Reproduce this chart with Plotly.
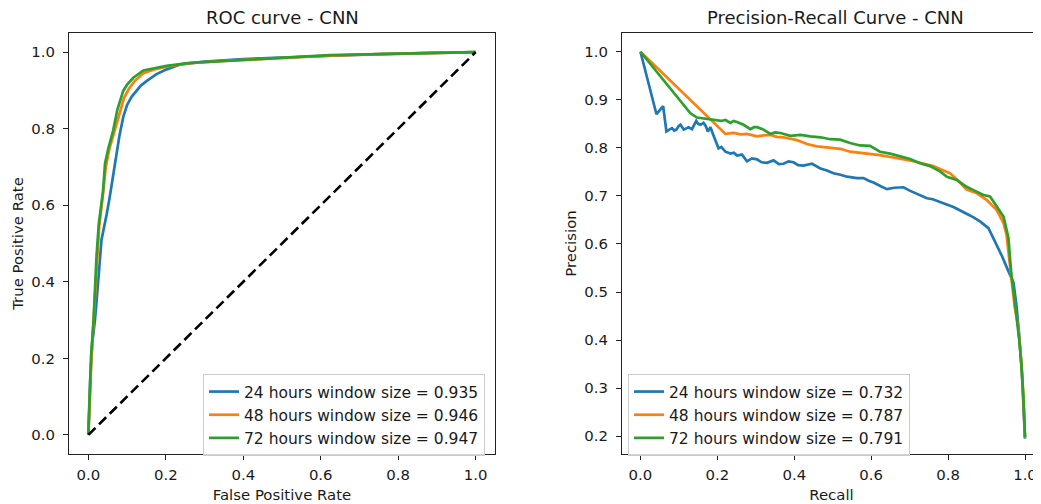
import plotly.graph_objects as go

# ---------------- data ----------------
roc_fpr_24 = [0, 0.005, 0.010, 0.017, 0.022, 0.026, 0.030, 0.034, 0.040, 0.047, 0.055, 0.062, 0.070,
              0.080, 0.090, 0.100, 0.112, 0.120, 0.135, 0.151, 0.175, 0.202, 0.237, 0.30,
              0.40, 0.50, 0.62, 0.75, 0.88, 1.0]
roc_tpr_24 = [0, 0.15, 0.24, 0.30, 0.36, 0.42, 0.46, 0.51, 0.545, 0.575, 0.62, 0.665, 0.72,
              0.78, 0.83, 0.862, 0.884, 0.894, 0.912, 0.925, 0.942, 0.955, 0.968, 0.975,
              0.982, 0.986, 0.991, 0.995, 0.998, 1.0]

roc_fpr_48 = [0, 0.004, 0.008, 0.013, 0.018, 0.022, 0.028, 0.038, 0.045, 0.055, 0.066, 0.078, 0.092,
              0.105, 0.12, 0.142, 0.17, 0.202, 0.263, 0.33, 0.409, 0.50, 0.624, 0.75, 0.88, 1.0]
roc_tpr_48 = [0, 0.12, 0.2, 0.29, 0.375, 0.46, 0.545, 0.63, 0.70, 0.75, 0.79, 0.835, 0.88,
              0.905, 0.925, 0.945, 0.955, 0.962, 0.971, 0.976, 0.98, 0.986, 0.991, 0.995, 0.998, 1.0]

roc_fpr_72 = [0, 0.004, 0.007, 0.013, 0.017, 0.021, 0.027, 0.038, 0.043, 0.052, 0.064, 0.075, 0.09,
              0.10, 0.116, 0.142, 0.17, 0.202, 0.263, 0.33, 0.409, 0.50, 0.624, 0.75, 0.88, 1.0]
roc_tpr_72 = [0, 0.12, 0.206, 0.293, 0.379, 0.466, 0.552, 0.639, 0.709, 0.75, 0.795, 0.85, 0.899,
              0.915, 0.933, 0.952, 0.958, 0.964, 0.972, 0.976, 0.981, 0.986, 0.992, 0.995, 0.998, 1.0]

pr_rec_24 = [0, 0.0416, 0.059, 0.0675, 0.075, 0.082, 0.088, 0.0935, 0.099, 0.104, 0.1125, 0.12, 0.125,
             0.134, 0.145, 0.15, 0.156, 0.164, 0.17, 0.175, 0.182, 0.188, 0.195, 0.203, 0.21, 0.221,
             0.234, 0.243, 0.251, 0.264, 0.277, 0.29, 0.303, 0.315, 0.329, 0.346, 0.36, 0.372, 0.385,
             0.398, 0.41, 0.424, 0.446, 0.468, 0.485, 0.502, 0.52, 0.537, 0.563, 0.58, 0.595, 0.606,
             0.625, 0.641, 0.66, 0.684, 0.70, 0.719, 0.745, 0.76, 0.779, 0.80, 0.814, 0.83, 0.848,
             0.865, 0.883, 0.905, 0.918, 0.926, 0.94, 0.957, 0.97, 0.978, 0.985, 0.992, 0.997, 1.0]
pr_prec_24 = [1.0, 0.870, 0.887, 0.834, 0.838, 0.841, 0.836, 0.838, 0.845, 0.848, 0.838, 0.842, 0.843,
              0.839, 0.856, 0.850, 0.848, 0.852, 0.845, 0.834, 0.843, 0.830, 0.816, 0.799, 0.802, 0.792,
              0.788, 0.790, 0.784, 0.786, 0.772, 0.778, 0.776, 0.770, 0.769, 0.774, 0.766, 0.767, 0.772,
              0.770, 0.764, 0.763, 0.767, 0.757, 0.753, 0.747, 0.744, 0.740, 0.737, 0.737, 0.731, 0.728,
              0.720, 0.714, 0.717, 0.718, 0.711, 0.704, 0.695, 0.693, 0.688, 0.681, 0.677, 0.671, 0.663,
              0.656, 0.647, 0.633, 0.612, 0.599, 0.575, 0.543, 0.520, 0.470, 0.410, 0.330, 0.260, 0.195]

pr_rec_48 = [0, 0.221, 0.242, 0.26, 0.277, 0.29, 0.303, 0.32, 0.338, 0.355, 0.372, 0.39, 0.407, 0.42,
             0.433, 0.459, 0.494, 0.52, 0.545, 0.571, 0.597, 0.623, 0.65, 0.675, 0.70, 0.727, 0.745,
             0.762, 0.785, 0.805, 0.818, 0.831, 0.848, 0.874, 0.9, 0.926, 0.944, 0.952, 0.96, 0.965,
             0.973, 0.982, 0.99, 0.996, 1.0]
pr_prec_48 = [1.0, 0.829, 0.831, 0.828, 0.829, 0.826, 0.824, 0.826, 0.827, 0.823, 0.822, 0.819, 0.816,
              0.812, 0.808, 0.803, 0.801, 0.798, 0.792, 0.790, 0.788, 0.785, 0.781, 0.778, 0.774, 0.769,
              0.766, 0.762, 0.754, 0.747, 0.738, 0.727, 0.713, 0.706, 0.692, 0.671, 0.644, 0.619, 0.56,
              0.52, 0.47, 0.43, 0.36, 0.28, 0.197]

pr_rec_72 = [0, 0.13, 0.147, 0.165, 0.182, 0.199, 0.21, 0.221, 0.234, 0.242, 0.251, 0.268, 0.286, 0.295,
             0.303, 0.32, 0.338, 0.35, 0.364, 0.39, 0.416, 0.442, 0.468, 0.494, 0.519, 0.545, 0.571,
             0.597, 0.623, 0.649, 0.675, 0.701, 0.727, 0.753, 0.779, 0.797, 0.823, 0.848, 0.866, 0.892,
             0.909, 0.926, 0.944, 0.952, 0.957, 0.962, 0.965, 0.972, 0.978, 0.985, 0.991, 0.996, 1.0]
pr_prec_72 = [1.0, 0.872, 0.863, 0.861, 0.860, 0.858, 0.856, 0.858, 0.852, 0.856, 0.854, 0.848, 0.839,
              0.843, 0.843, 0.838, 0.829, 0.832, 0.831, 0.825, 0.827, 0.824, 0.822, 0.818, 0.817, 0.810,
              0.805, 0.804, 0.792, 0.788, 0.782, 0.777, 0.768, 0.762, 0.751, 0.740, 0.733, 0.719, 0.712,
              0.702, 0.699, 0.678, 0.657, 0.630, 0.612, 0.56, 0.533, 0.49, 0.45, 0.40, 0.346, 0.28, 0.198]

roc_labels = ["24 hours window size = 0.935", "48 hours window size = 0.946", "72 hours window size = 0.947"]
pr_labels = ["24 hours window size = 0.732", "48 hours window size = 0.787", "72 hours window size = 0.791"]
colors = ["#1f77b4", "#ff7f0e", "#2ca02c"]

FONT = "DejaVu Sans"
TXT = "#1a1a1a"
OFF = 8                 # page body margin of the written html
W, H = 1041 - OFF, 504 - OFF


def px(xref):           # reference x pixel -> paper fraction
    return (xref - OFF) / W


def py(yref):           # reference y pixel -> paper fraction
    return 1 - (yref - OFF) / H


fig = go.Figure()

roc_sets = [(roc_fpr_24, roc_tpr_24), (roc_fpr_48, roc_tpr_48), (roc_fpr_72, roc_tpr_72)]
for (x, y), lab, c in zip(roc_sets, roc_labels, colors):
    fig.add_trace(go.Scatter(x=x, y=y, mode="lines", name=lab, line=dict(color=c, width=2.7),
                             xaxis="x", yaxis="y", legend="legend"))
fig.add_trace(go.Scatter(x=[0, 1], y=[0, 1], mode="lines", showlegend=False,
                         line=dict(color="black", width=2.6, dash="10px,5px"), xaxis="x", yaxis="y"))

pr_sets = [(pr_rec_24, pr_prec_24), (pr_rec_48, pr_prec_48), (pr_rec_72, pr_prec_72)]
for (x, y), lab, c in zip(pr_sets, pr_labels, colors):
    fig.add_trace(go.Scatter(x=x, y=y, mode="lines", name=lab, line=dict(color=c, width=2.7),
                             xaxis="x2", yaxis="y2", legend="legend2"))

FS = 14.9
LFS = 15.5
ax_common = dict(showgrid=False, zeroline=False, showline=True, linecolor="#222", linewidth=1,
                 ticks="outside", ticklen=5, tickwidth=1, tickcolor="#222",
                 tickfont=dict(family=FONT, size=FS, color=TXT), tickformat=".1f")

leg_common = dict(xanchor="left", yanchor="top", bgcolor="rgba(255,255,255,0.8)",
                  bordercolor="#cccccc", borderwidth=1, tracegroupgap=0,
                  font=dict(family=FONT, size=LFS, color=TXT))

fig.update_layout(
    width=W, height=H,
    margin=dict(l=0, r=0, t=0, b=0),
    paper_bgcolor="white", plot_bgcolor="white",
    font=dict(family=FONT, size=FS, color=TXT),
    xaxis=dict(domain=[px(69), px(495)], range=[-0.05, 1.05], dtick=0.2, tick0=0, mirror=True,
               title=dict(text="False Positive Rate", standoff=9, font=dict(size=FS)), anchor="y",
               ticklabelstandoff=2, **ax_common),
    yaxis=dict(domain=[py(454), py(33)], range=[-0.05, 1.05], dtick=0.2, tick0=0, mirror=True,
               title=dict(text="True Positive Rate", standoff=4, font=dict(size=FS)), anchor="x",
               ticklabelstandoff=5, **ax_common),
    xaxis2=dict(domain=[px(622), 1.0], range=[-0.048, 1.0416], dtick=0.2, tick0=0, mirror=True,
                title=dict(text="Recall", standoff=9, font=dict(size=FS)), anchor="y2",
                ticklabelstandoff=2, **ax_common),
    yaxis2=dict(domain=[py(454), py(33)], range=[0.163, 1.039], dtick=0.1, tick0=0, mirror=False,
                title=dict(text="Precision", standoff=4, font=dict(size=FS)), anchor="x2",
                ticklabelstandoff=5, **ax_common),
    legend=dict(x=px(203), y=py(374), **leg_common),
    legend2=dict(x=px(628), y=py(374), **leg_common),
    annotations=[
        dict(text="ROC curve - CNN", x=px((69 + 495) / 2), y=py(17), xref="paper", yref="paper",
             xanchor="center", yanchor="middle", showarrow=False,
             font=dict(family=FONT, size=18, color=TXT)),
        dict(text="Precision-Recall Curve - CNN", x=px(835), y=py(17), xref="paper",
             yref="paper", xanchor="center", yanchor="middle", showarrow=False,
             font=dict(family=FONT, size=18, color=TXT)),
    ],
)

fig.write_html("out.html")
